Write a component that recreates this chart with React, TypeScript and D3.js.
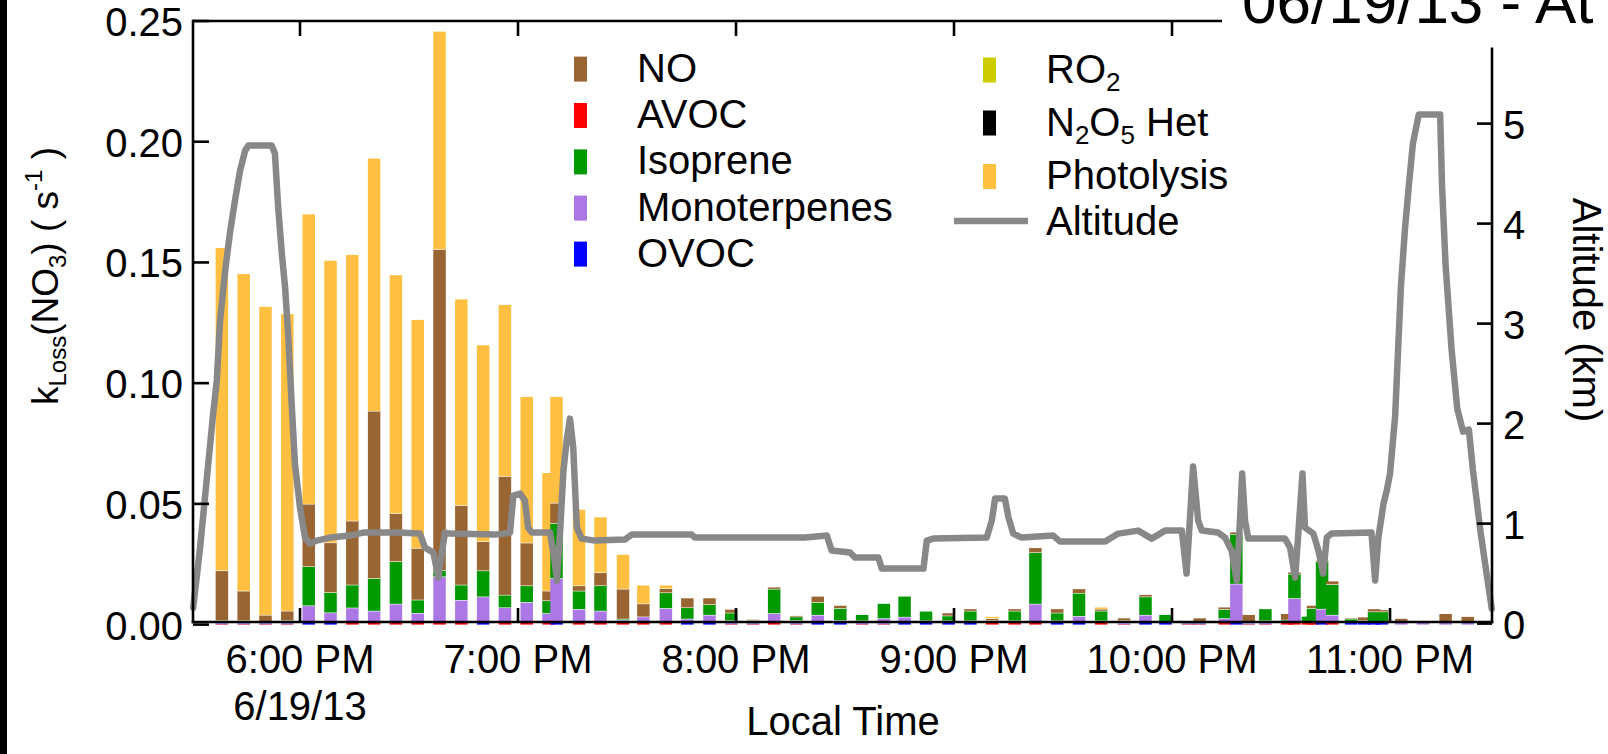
import React from 'react';
import * as d3 from 'd3';

// ---- NO3 loss-rate bars (6-min flight-leg averages), segment values in s^-1 ----
const barTimes = [
  '17:38:30', '17:44:30', '17:50:30', '17:56:30', '18:02:24', '18:08:24', '18:14:24', '18:20:24', '18:26:24', '18:32:24',
  '18:38:24', '18:44:24', '18:50:24', '18:56:24', '19:02:24', '19:08:24', '19:10:36', '19:16:48', '19:22:42', '19:28:54',
  '19:34:30', '19:40:42', '19:46:36', '19:52:42', '19:58:42', '20:04:42', '20:10:30', '20:16:36', '20:22:30', '20:28:42',
  '20:34:42', '20:40:42', '20:46:24', '20:52:18', '20:58:30', '21:04:30', '21:10:30', '21:16:42', '21:22:24', '21:28:24',
  '21:34:24', '21:40:30', '21:46:48', '21:52:42', '21:58:12', '22:04:24', '22:07:36', '22:14:30', '22:17:42', '22:21:06',
  '22:25:42', '22:31:42', '22:33:42', '22:37:24', '22:38:48', '22:41:18', '22:44:06', '22:49:18', '22:52:54', '22:55:36',
  '22:57:48', '23:03:06', '23:09:06', '23:15:18', '23:21:24',
];

const avoc = [
  0.0002, 0.0002, 0.0002, 0.0002, 0, 0, 0.0009, 0.0009, 0.0009, 0.0009,
  0.0009, 0.0009, 0, 0.0009, 0.0009, 0.0009, 0, 0.0009, 0.0009, 0.0009,
  0.0009, 0.0009, 0, 0, 0.0002, 0.0002, 0.0009, 0.0002, 0, 0,
  0.0002, 0.0002, 0, 0, 0, 0, 0.0009, 0.0009, 0.0009, 0,
  0, 0.0009, 0.0002, 0, 0, 0.0002, 0.0002, 0.0009, 0, 0.0002,
  0.0002, 0.0009, 0.0009, 0.0009, 0.0009, 0, 0.0009, 0, 0, 0,
  0, 0, 0, 0, 0,
];

const ovoc = [
  0.0002, 0.0002, 0.0002, 0.0002, 0.0009, 0.0009, 0, 0, 0, 0,
  0, 0, 0.0009, 0, 0, 0, 0.0009, 0, 0, 0,
  0, 0, 0.0009, 0.0009, 0.0002, 0.0002, 0, 0.0002, 0.0009, 0.0009,
  0.0002, 0.0002, 0.0009, 0.0009, 0.0009, 0.0009, 0, 0, 0, 0.0009,
  0.0009, 0, 0.0002, 0.0009, 0.0009, 0.0002, 0.0002, 0, 0.0009, 0.0002,
  0.0002, 0, 0, 0, 0, 0.0009, 0, 0.0009, 0.0009, 0.0009,
  0.0009, 0, 0, 0, 0,
];

const monoterpenes = [
  0.0006, 0.0006, 0.0008, 0.0006, 0.007, 0.0041, 0.0061, 0.0048, 0.0077, 0.0039,
  0.019, 0.0093, 0.0107, 0.0062, 0.0084, 0.0038, 0.0183, 0.0055, 0.0048, 0.0011,
  0.0024, 0.0059, 0.0015, 0.0031, 0.0014, 0.0002, 0.0038, 0.0014, 0.0031, 0.0009,
  0.0013, 0.0022, 0.0023, 0.0008, 0.0008, 0.0008, 0.0003, 0.0008, 0.0077, 0.0008,
  0.0026, 0.0008, 0.0004, 0.0031, 0.0003, 0.0002, 0.0002, 0.0017, 0.016, 0.0004,
  0.0013, 0.0003, 0.01, 0.0003, 0.0003, 0.0056, 0.0031, 0.0003, 0.0001, 0.0003,
  0.0006, 0.0012, 0.001, 0.001, 0.001,
];

const isoprene = [
  0.0008, 0.0008, 0, 0.0008, 0.0162, 0.0084, 0.0095, 0.0135, 0.0176, 0.0055,
  0.0026, 0.0063, 0.0108, 0.0052, 0.0069, 0.0053, 0.0228, 0.0076, 0.0105, 0.0004,
  0, 0.0065, 0.0047, 0.0044, 0.0031, 0.0012, 0.0101, 0.0015, 0.0053, 0.005,
  0.0023, 0.006, 0.0084, 0.0037, 0.002, 0.004, 0.0006, 0.004, 0.0213, 0.0032,
  0.0096, 0.004, 0.001, 0.0076, 0.0028, 0.0009, 0.0009, 0.0038, 0.0206, 0,
  0.0047, 0.0008, 0.0101, 0.0021, 0.0056, 0.0197, 0.0127, 0.0012, 0.0008, 0.0042,
  0.0039, 0.0003, 0, 0, 0,
];

const noRate = [
  0.0206, 0.0122, 0.0028, 0.0039, 0.0259, 0.0206, 0.0265, 0.0693, 0.0199, 0.0214,
  0.133, 0.0329, 0.0121, 0.0492, 0.0177, 0.004, 0.0084, 0.0022, 0.0054, 0.0124,
  0.0054, 0.0017, 0.0038, 0.0025, 0.0013, 0.0002, 0.0006, 0.0003, 0.0023, 0.001,
  0, 0, 0, 0, 0.001, 0.0007, 0.0008, 0.0007, 0.0018, 0.0015,
  0.0016, 0.0008, 0.0008, 0.0007, 0, 0, 0.0011, 0.0007, 0.0007, 0.0032,
  0, 0.0024, 0.0006, 0, 0.001, 0.0003, 0.0012, 0.0002, 0.0012, 0.001,
  0.0006, 0.0009, 0, 0.0034, 0.0022,
];

const ro2 = [
  0, 0, 0, 0, 0, 0, 0, 0, 0, 0, 0, 0, 0, 0, 0, 0, 0, 0, 0, 0,
  0, 0, 0, 0, 0, 0, 0, 0, 0, 0, 0, 0, 0, 0, 0, 0, 0, 0, 0, 0,
  0, 0, 0, 0, 0, 0, 0, 0, 0, 0, 0, 0, 0, 0, 0, 0, 0, 0, 0, 0,
  0, 0, 0, 0, 0,
];

const n2o5Het = [
  0, 0, 0, 0, 0, 0, 0, 0, 0, 0, 0, 0, 0, 0, 0, 0, 0, 0, 0, 0,
  0, 0, 0, 0, 0, 0, 0, 0, 0, 0, 0, 0, 0, 0, 0, 0, 0, 0, 0, 0,
  0, 0, 0, 0, 0, 0, 0, 0, 0, 0, 0, 0, 0, 0, 0, 0, 0, 0, 0, 0,
  0, 0, 0, 0, 0,
];

const photolysis = [
  0.1336, 0.1312, 0.1276, 0.1229, 0.1199, 0.1167, 0.1101, 0.1045, 0.0986, 0.0945,
  0.0901, 0.0853, 0.0812, 0.0709, 0.0604, 0.0488, 0.0439, 0.0314, 0.0228, 0.0141,
  0.0075, 0.0012, 0, 0, 0, 0, 0, 0, 0, 0,
  0, 0, 0, 0, 0, 0, 0.0006, 0, 0, 0,
  0, 0.0006, 0, 0, 0, 0, 0, 0, 0, 0,
  0, 0, 0, 0, 0, 0, 0, 0, 0, 0,
  0, 0, 0, 0, 0,
];

// ---- aircraft altitude (km) ----
const altTimes = [
  '17:30:36', '17:32:30', '17:34:18', '17:36:06', '17:37:06', '17:38:00', '17:39:24', '17:40:42', '17:42:06', '17:43:30',
  '17:44:54', '17:45:48', '17:52:12', '17:53:06', '17:54:00', '17:55:00', '17:55:54', '17:56:48', '17:57:15', '17:57:42',
  '17:58:36', '18:00:00', '18:01:24', '18:02:45', '18:04:36', '18:08:18', '18:13:48', '18:17:24', '18:26:36', '18:33:00',
  '18:34:24', '18:36:42', '18:38:06', '18:39:00', '18:39:54', '18:41:18', '18:53:42', '18:57:48', '18:58:42', '19:00:36',
  '19:01:54', '19:02:48', '19:03:48', '19:08:48', '19:10:12', '19:10:42', '19:11:36', '19:12:30', '19:13:24', '19:14:18',
  '19:15:12', '19:15:42', '19:16:12', '19:17:30', '19:21:12', '19:29:24', '19:31:18', '19:47:48', '19:48:42', '20:19:00',
  '20:25:00', '20:26:18', '20:31:24', '20:32:48', '20:39:12', '20:40:06', '20:51:36', '20:52:30', '20:54:18', '21:09:00',
  '21:10:24', '21:11:18', '21:14:00', '21:15:00', '21:16:18', '21:18:36', '21:27:18', '21:29:12', '21:41:36', '21:45:12',
  '21:50:42', '21:54:24', '21:58:06', '22:02:42', '22:04:00', '22:04:54', '22:05:48', '22:07:12', '22:08:12', '22:12:42',
  '22:14:36', '22:16:24', '22:17:48', '22:18:42', '22:19:18', '22:20:06', '22:21:00', '22:31:06', '22:32:30', '22:33:54',
  '22:35:12', '22:35:54', '22:36:36', '22:38:54', '22:40:18', '22:41:36', '22:42:36', '22:43:54', '22:54:54', '22:55:54',
  '22:56:48', '22:58:12', '22:59:06', '23:00:00', '23:01:24', '23:02:00', '23:03:00', '23:04:06', '23:05:12', '23:06:18',
  '23:07:54', '23:13:48', '23:14:18', '23:15:18', '23:16:54', '23:18:30', '23:20:06', '23:21:42', '23:22:48', '23:24:54',
  '23:26:30', '23:28:00',
];

const altitudeKm = [
  0.16, 0.76, 1.43, 2.1, 2.43, 3.03, 3.53, 3.9, 4.23, 4.53,
  4.73, 4.78, 4.78, 4.7, 4.16, 3.7, 3.36, 2.86, 2.53, 2.2,
  1.6, 1.16, 0.86, 0.8, 0.83, 0.86, 0.88, 0.91, 0.91, 0.9,
  0.76, 0.71, 0.46, 0.7, 0.91, 0.9, 0.89, 0.91, 1.28, 1.3,
  1.23, 0.96, 0.91, 0.91, 0.6, 0.43, 0.93, 1.53, 1.83, 2.05,
  1.76, 1.36, 0.96, 0.85, 0.83, 0.84, 0.89, 0.89, 0.86, 0.86,
  0.88, 0.73, 0.71, 0.66, 0.66, 0.55, 0.55, 0.83, 0.85, 0.86,
  1.03, 1.25, 1.25, 1.06, 0.9, 0.86, 0.88, 0.82, 0.82, 0.9,
  0.93, 0.85, 0.93, 0.93, 0.5, 1.03, 1.57, 1.03, 0.93, 0.91,
  0.86, 0.73, 0.43, 1.03, 1.5, 1.03, 0.85, 0.85, 0.76, 0.46,
  1.13, 1.5, 0.96, 0.9, 0.73, 0.5, 0.86, 0.9, 0.91, 0.43,
  0.86, 1.2, 1.33, 1.5, 2.07, 2.56, 3.37, 3.94, 4.39, 4.8,
  5.09, 5.09, 4.39, 3.58, 2.76, 2.15, 1.92, 1.94, 1.54, 0.92,
  0.52, 0.15,
];

// ---- axes ----
const kTicks = [0, 0.05, 0.1, 0.15, 0.2, 0.25];
const altTicks = [0, 1, 2, 3, 4, 5];
const hourTicks = ['18:00:00', '19:00:00', '20:00:00', '21:00:00', '22:00:00', '23:00:00'];
const hourLabels = ['6:00 PM', '7:00 PM', '8:00 PM', '9:00 PM', '10:00 PM', '11:00 PM'];
const dateLabel = '6/19/13';
const timeDomain = ['17:30:33', '23:28:04'];

const seriesKeys = ['avoc', 'ovoc', 'monoterpenes', 'isoprene', 'no', 'ro2', 'n2o5', 'photolysis'];
const seriesColors: Record<string, string> = {
  no: '#996633',
  avoc: '#ff0000',
  isoprene: '#009900',
  monoterpenes: '#ab78e6',
  ovoc: '#0000ff',
  ro2: '#cccc00',
  n2o5: '#000000',
  photolysis: '#ffbf40',
};
const ALT_COLOR = '#888888';

const FONT = '"Liberation Sans", Arial, Helvetica, sans-serif';

const clock = (s: string) => {
  const [h, m, sec] = s.split(':').map(Number);
  return new Date(2013, 5, 19, h, m, sec || 0);
};

const PLOT = { left: 193, right: 1492, top: 21, bottom: 622 };

export default function App() {
  const x = d3.scaleTime().domain(timeDomain.map(clock)).range([PLOT.left, PLOT.right]);
  const yK = d3.scaleLinear().domain([0, 0.25]).range([624.6, 21]);
  const yAlt = d3.scaleLinear().domain([0, 6]).range([623.6, 23.6]);

  const rows = barTimes.map((t, i) => ({
    t: clock(t),
    avoc: avoc[i],
    ovoc: ovoc[i],
    monoterpenes: monoterpenes[i],
    isoprene: isoprene[i],
    no: noRate[i],
    ro2: ro2[i],
    n2o5: n2o5Het[i],
    photolysis: photolysis[i],
  }));
  const stacked = d3.stack<any>().keys(seriesKeys)(rows);
  const barW = 12.5;

  const altLine = d3
    .line<number>()
    .x((_, i) => x(clock(altTimes[i])))
    .y((a) => yAlt(a))(altitudeKm);

  const bars: React.ReactNode[] = [];
  rows.forEach((r, i) => {
    const cx = x(r.t);
    const total = stacked[stacked.length - 1][i][1];
    stacked.forEach((layer, li) => {
      const [a, b] = layer[i];
      if (b - a <= 0) return;
      const y0 = yK(a);
      const y1 = yK(b);
      bars.push(
        <rect
          key={`b${i}-${li}`}
          x={cx - barW / 2}
          y={y1}
          width={barW}
          height={y0 - y1}
          fill={seriesColors[layer.key]}
        />
      );
      // white divider between stacked segments
      if (li >= 2 && b < total - 1e-9 && y0 - y1 > 0.8) {
        bars.push(
          <line
            key={`s${i}-${li}`}
            x1={cx - barW / 2}
            x2={cx + barW / 2}
            y1={y1}
            y2={y1}
            stroke="#ffffff"
            strokeWidth={1.2}
          />
        );
      }
    });
  });

  const legendLeft = [
    { key: 'no', label: 'NO' },
    { key: 'avoc', label: 'AVOC' },
    { key: 'isoprene', label: 'Isoprene' },
    { key: 'monoterpenes', label: 'Monoterpenes' },
    { key: 'ovoc', label: 'OVOC' },
  ];
  const leftBase = [81.6, 128, 174.4, 220.6, 266.6];
  const rightBase = [82.5, 135.5, 189, 235];

  const fs = 40;
  const sub = 26;

  return (
    <svg
      width={1608}
      height={754}
      style={{ position: 'absolute', left: 0, top: 0, background: '#fff' }}
      fontFamily={FONT}
    >
      <rect x={0} y={0} width={1608} height={754} fill="#ffffff" />
      <rect x={0} y={0} width={7} height={754} fill="#000000" />

      {/* stacked bars */}
      <g>{bars}</g>

      {/* altitude trace */}
      <path d={altLine || ''} fill="none" stroke={ALT_COLOR} strokeWidth={6.5} strokeLinejoin="round" strokeLinecap="round" />

      {/* frame */}
      <g stroke="#000" strokeWidth={2.6} fill="none">
        <line x1={PLOT.left} x2={PLOT.left} y1={PLOT.top - 1.3} y2={PLOT.bottom + 1.3} />
        <line x1={PLOT.right} x2={PLOT.right} y1={PLOT.top - 1.3} y2={PLOT.bottom + 1.3} />
        <line x1={PLOT.left} x2={PLOT.right} y1={PLOT.top} y2={PLOT.top} />
        <line x1={PLOT.left - 1.3} x2={PLOT.right + 1.3} y1={PLOT.bottom} y2={PLOT.bottom} />
        {kTicks.map((t) => (
          <line key={`kt${t}`} x1={PLOT.left} x2={PLOT.left + 16} y1={yK(t)} y2={yK(t)} />
        ))}
        {altTicks.map((t) => (
          <line key={`at${t}`} x1={PLOT.right} x2={PLOT.right - 15} y1={yAlt(t)} y2={yAlt(t)} />
        ))}
        {hourTicks.map((h) => (
          <g key={`ht${h}`}>
            <line x1={x(clock(h))} x2={x(clock(h))} y1={PLOT.bottom} y2={PLOT.bottom - 14} />
            <line x1={x(clock(h))} x2={x(clock(h))} y1={PLOT.top} y2={PLOT.top + 15} />
          </g>
        ))}
      </g>

      {/* left tick labels */}
      {kTicks.map((t) => (
        <text key={`kl${t}`} x={183} y={yK(t) + 15} textAnchor="end" fontSize={fs}>
          {t.toFixed(2)}
        </text>
      ))}
      {/* right tick labels */}
      {altTicks.map((t) => (
        <text key={`al${t}`} x={1503} y={yAlt(t) + 15} textAnchor="start" fontSize={fs}>
          {t}
        </text>
      ))}
      {/* time labels */}
      {hourTicks.map((h, i) => (
        <text key={`hl${h}`} x={x(clock(h))} y={673} textAnchor="middle" fontSize={fs}>
          {hourLabels[i]}
        </text>
      ))}
      <text x={x(clock(hourTicks[0]))} y={720} textAnchor="middle" fontSize={fs}>
        {dateLabel}
      </text>
      <text x={843} y={735} textAnchor="middle" fontSize={fs}>
        Local Time
      </text>

      {/* axis titles */}
      <text transform="translate(58,276) rotate(-90)" textAnchor="middle" fontSize={37}>
        k<tspan fontSize={24} dy={8}>Loss</tspan>
        <tspan dy={-8}>(NO</tspan>
        <tspan fontSize={24} dy={8}>3</tspan>
        <tspan dy={-8}>) ( s</tspan>
        <tspan fontSize={24} dy={-16}>-1</tspan>
        <tspan dy={16}> )</tspan>
      </text>
      <text transform="translate(1573,310) rotate(90)" textAnchor="middle" fontSize={fs}>
        Altitude (km)
      </text>

      {/* legend, left column */}
      {legendLeft.map((e, i) => (
        <g key={`lg${e.key}`}>
          <rect x={574} y={leftBase[i] - 25} width={13} height={25} fill={seriesColors[e.key]} />
          <text x={637} y={leftBase[i]} fontSize={fs}>
            {e.label}
          </text>
        </g>
      ))}
      {/* legend, right column */}
      <rect x={983} y={rightBase[0] - 25} width={13} height={25} fill={seriesColors.ro2} />
      <text x={1046} y={rightBase[0]} fontSize={fs}>
        RO<tspan fontSize={sub} dy={8}>2</tspan>
      </text>
      <rect x={983} y={rightBase[1] - 25} width={13} height={25} fill={seriesColors.n2o5} />
      <text x={1046} y={rightBase[1]} fontSize={fs}>
        N<tspan fontSize={sub} dy={8}>2</tspan>
        <tspan dy={-8}>O</tspan>
        <tspan fontSize={sub} dy={8}>5</tspan>
        <tspan dy={-8}> Het</tspan>
      </text>
      <rect x={983} y={rightBase[2] - 25} width={13} height={25} fill={seriesColors.photolysis} />
      <text x={1046} y={rightBase[2]} fontSize={fs}>
        Photolysis
      </text>
      <line x1={954} x2={1028} y1={rightBase[3] - 14} y2={rightBase[3] - 14} stroke={ALT_COLOR} strokeWidth={6.5} />
      <text x={1046} y={rightBase[3]} fontSize={fs}>
        Altitude
      </text>

      {/* title banner */}
      <rect x={1222} y={0} width={386} height={47.5} fill="#ffffff" />
      <text x={1242} y={22.5} fontSize={62}>
        06/19/13 - At
      </text>
    </svg>
  );
}
